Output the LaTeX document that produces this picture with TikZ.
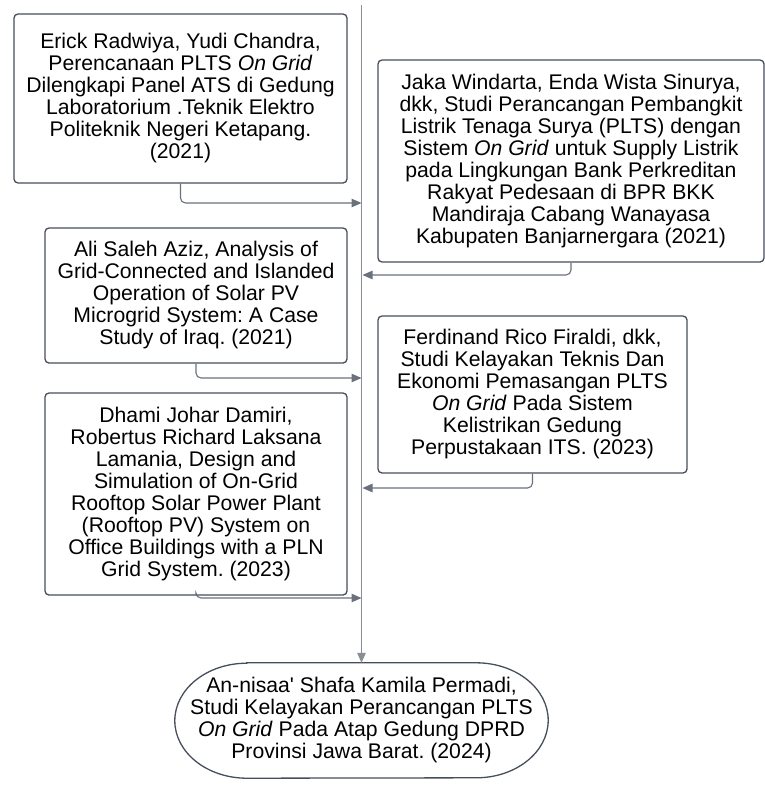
\documentclass[tikz,border=0pt]{standalone}
\usepackage{fontspec}
\setmainfont{Liberation Sans}
\usetikzlibrary{arrows.meta}
\frenchspacing
\definecolor{boxline}{HTML}{474E5B}
\definecolor{connline}{HTML}{6A707C}
\tikzset{
  refbox/.style={draw=boxline, line width=1.3pt, rounded corners=4pt, fill=white,
    align=center, inner sep=0pt, font=\fontsize{21.2}{22}\selectfont\frenchspacing, text=black},
  ovaltext/.style={align=center, inner sep=0pt, font=\fontsize{21.2}{22}\selectfont\frenchspacing, text=black},
  ovalline/.style={draw=boxline, line width=1.3pt},
  conn/.style={draw=connline, line width=1.1pt, rounded corners=5pt,
    -{Triangle[length=10pt,width=8.5pt]}},
  mainline/.style={draw=connline!80, line width=1.1pt,
    -{Triangle[length=10pt,width=8.5pt]}}
}
\begin{document}
\begin{tikzpicture}[x=1pt,y=-1pt]
\useasboundingbox (0,0) rectangle (765,787);

\node[refbox, minimum width=333pt, minimum height=169pt] (b1) at (180.5,98.5)
  {Erick Radwiya, Yudi Chandra,\\Perencanaan PLTS \textit{On Grid}\\Dilengkapi Panel ATS di Gedung\\Laboratorium .Teknik Elektro\\Politeknik Negeri Ketapang.\\(2021)};

\node[refbox, minimum width=386pt, minimum height=202pt] (b2) at (571,161)
  {Jaka Windarta, Enda Wista Sinurya,\\dkk, Studi Perancangan Pembangkit\\Listrik Tenaga Surya (PLTS) dengan\\Sistem \textit{On Grid} untuk Supply Listrik\\pada Lingkungan Bank Perkreditan\\Rakyat Pedesaan di BPR BKK\\Mandiraja Cabang Wanayasa\\Kabupaten Banjarnergara (2021)};

\node[refbox, minimum width=302pt, minimum height=135pt] (b3) at (196,295.5)
  {Ali Saleh Aziz, Analysis of\\Grid-Connected and Islanded\\Operation of Solar PV\\Microgrid System: A Case\\Study of Iraq. (2021)};

\node[refbox, minimum width=309pt, minimum height=157pt] (b4) at (532.5,394.5)
  {Ferdinand Rico Firaldi, dkk,\\Studi Kelayakan Teknis Dan\\Ekonomi Pemasangan PLTS\\\textit{On Grid} Pada Sistem\\Kelistrikan Gedung\\Perpustakaan ITS. (2023)};

\node[refbox, minimum width=302pt, minimum height=202pt] (b5) at (196,494)
  {Dhami Johar Damiri,\\Robertus Richard Laksana\\Lamania, Design and\\Simulation of On-Grid\\Rooftop Solar Power Plant\\(Rooftop PV) System on\\Office Buildings with a PLN\\Grid System. (2023)};

\node[ovaltext, minimum width=373pt, minimum height=115pt] (fin) at (361.5,720.5)
  {An-nisaa\textquotesingle{} Shafa Kamila Permadi,\\Studi Kelayakan Perancangan PLTS\\\textit{On Grid} Pada Atap Gedung DPRD\\Provinsi Jawa Barat. (2024)};
\draw[ovalline] ([xshift=72pt]fin.north west) -- ([xshift=-72pt]fin.north east)
  arc[start angle=90, end angle=-90, x radius=72pt, y radius=57.5pt]
  -- ([xshift=72pt]fin.south west)
  arc[start angle=270, end angle=90, x radius=72pt, y radius=57.5pt] -- cycle;

\coordinate (top) at (361.5,5);
\coordinate (j1) at (361.5,203);
\coordinate (j2) at (362.5,275);
\coordinate (j3) at (361.5,378);
\coordinate (j4) at (362.5,488);
\coordinate (j5) at (361.5,598);

\draw[mainline] (top) -- (fin.north);
\draw[conn] (b1.south) |- (j1);
\draw[conn] (b2.south) |- (j2);
\draw[conn] (b3.south) |- (j3);
\draw[conn] (b4.south) |- (j4);
\draw[conn] (b5.south) |- (j5);
\end{tikzpicture}
\end{document}
